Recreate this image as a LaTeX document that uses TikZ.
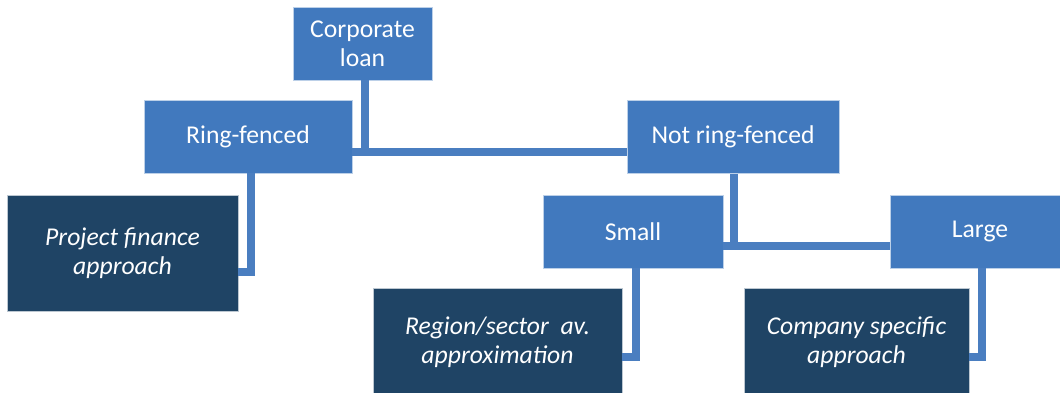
\documentclass[tikz,border=0pt]{standalone}
\usepackage{fontspec}
\setmainfont{Carlito}
\definecolor{boxblue}{HTML}{4179BE}
\definecolor{boxnavy}{HTML}{1F4465}
\definecolor{linkblue}{HTML}{4A7EC0}
\begin{document}
\begin{tikzpicture}[x=0.02cm, y=-0.02cm, light node/.style={rectangle,fill=boxblue,draw=boxblue!35!white,line width=0.5pt,text=white,align=center,inner sep=0pt,font=\fontsize{14.6}{16.5}\selectfont}, dark node/.style={light node,fill=boxnavy,draw=boxnavy!30!white,font=\fontsize{14.6}{16.5}\selectfont\itshape}]
\path[use as bounding box,clip] (0,0) rectangle (1060,392);
\begin{scope}
\node[light node,minimum width=2.78cm,minimum height=1.46cm] (loan) at (362.5,43.5) {Corporate\\loan};
\node[light node,minimum width=4.16cm,minimum height=1.46cm] (rf) at (248,136.5) {Ring-fenced};
\node[light node,minimum width=4.24cm,minimum height=1.46cm] (nrf) at (733,137) {Not ring-fenced};
\node[light node,minimum width=3.6cm,minimum height=1.46cm] (small) at (633,231.5) {Small};
\node[light node,minimum width=3.6cm,minimum height=1.46cm] (large) at (980,231.5) {Large};
\node[dark node,minimum width=4.62cm,minimum height=2.32cm] (pf) at (122.5,253) {Project finance\\approach};
\node[dark node,minimum width=4.98cm,minimum height=2.16cm] (region) at (497.5,342) {Region/sector\ \ av.\\approximation};
\node[dark node,minimum width=4.5cm,minimum height=2.16cm] (company) at (856.5,342) {Company specific\\approach};
\end{scope}
\coordinate (j1) at (365,152);
\coordinate (j2) at (251,272);
\coordinate (j3) at (734,246);
\coordinate (j4) at (636,357);
\coordinate (j5) at (982,357);
\begin{scope}[every path/.style={draw=linkblue,line width=4.6pt}]
\draw (loan.south -| j1) -- (j1);
\draw (rf.east |- j1) -- (nrf.west |- j1);
\draw (rf.south -| j2) -- (j2) -- (pf.east |- j2);
\draw (nrf.south -| j3) -- (j3);
\draw (small.east |- j3) -- (large.west |- j3);
\draw (small.south -| j4) -- (j4) -- (region.east |- j4);
\draw (large.south -| j5) -- (j5) -- (company.east |- j5);
\end{scope}
\end{tikzpicture}
\end{document}
